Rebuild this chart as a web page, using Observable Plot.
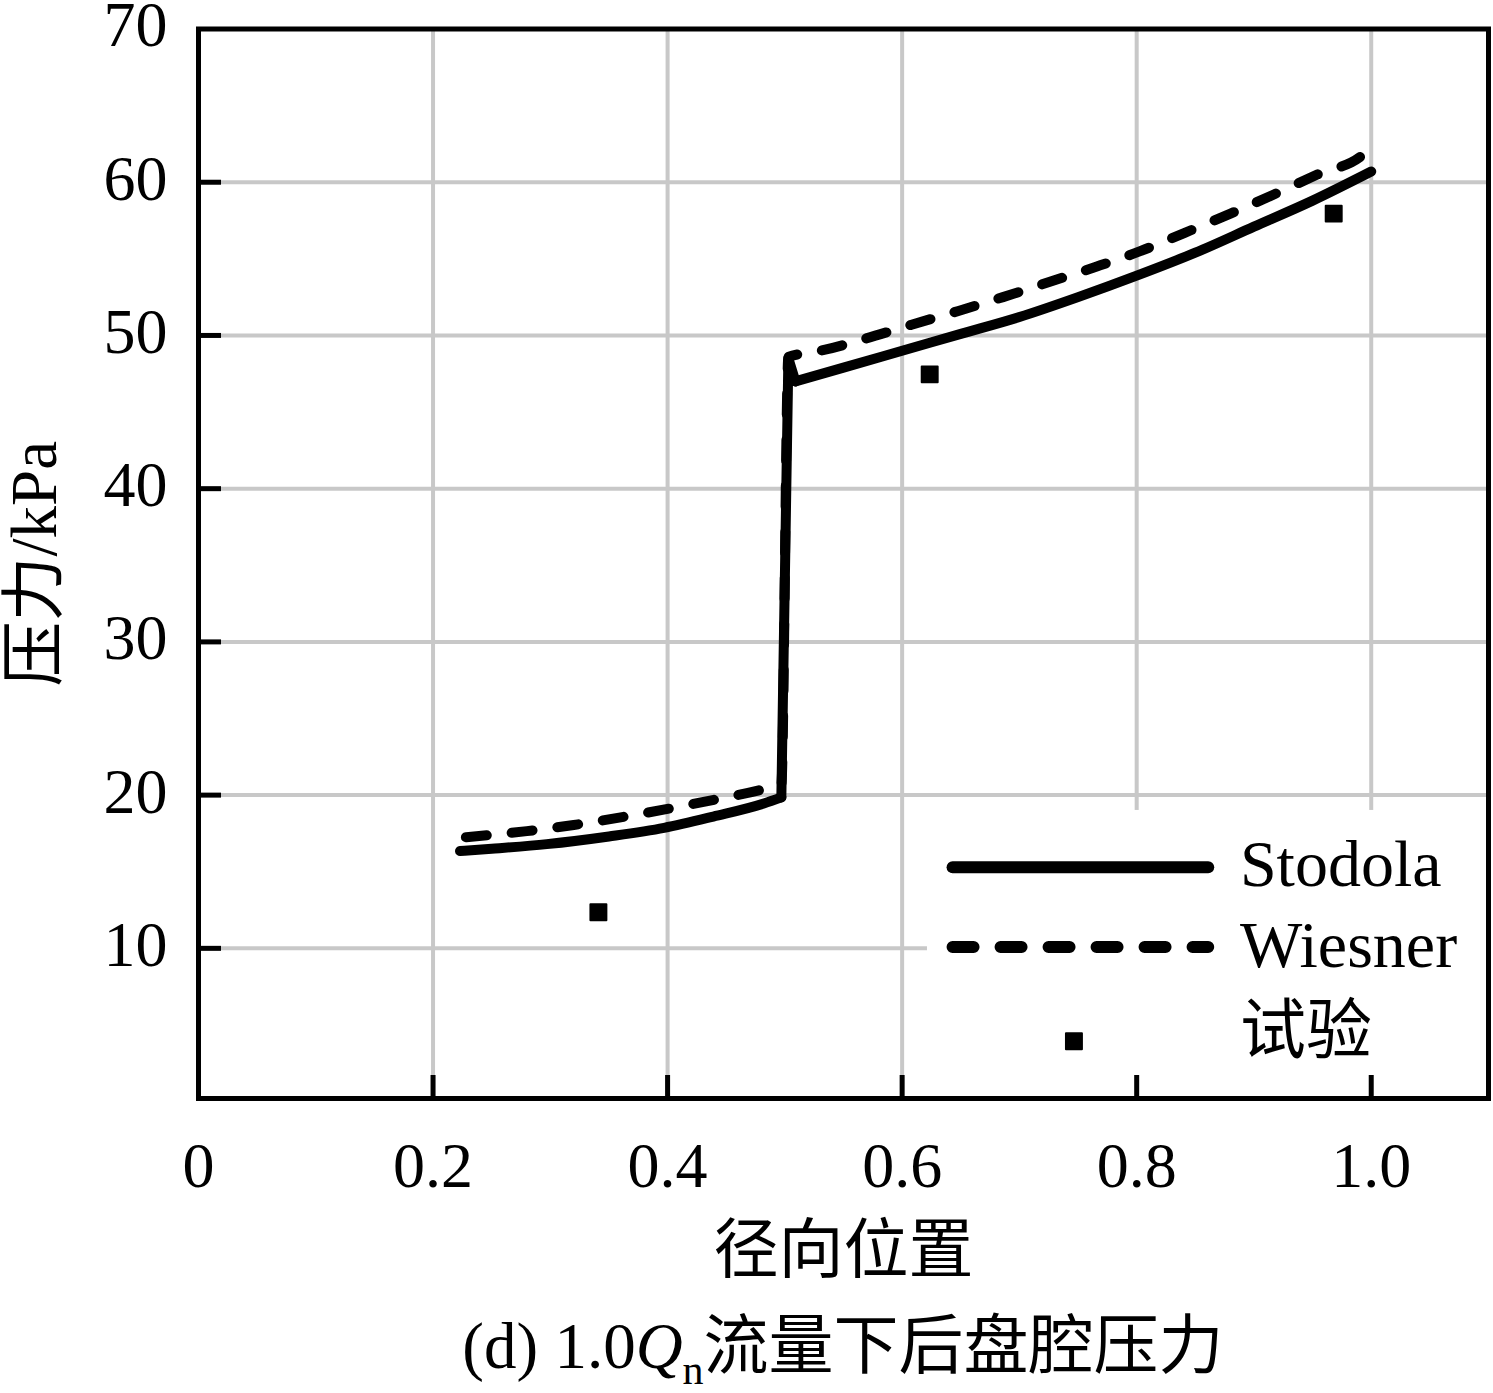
<!DOCTYPE html>
<html>
<head>
<meta charset="utf-8">
<script src="https://cdn.jsdelivr.net/npm/d3@7"></script>
<script src="https://cdn.jsdelivr.net/npm/@observablehq/plot@0.6"></script>
<style>
  html, body { margin: 0; padding: 0; background: #fff; }
  #chart svg { display: block; }
  #cap {
    width: 1493px; box-sizing: border-box; padding-left: 198px; padding-right: 5px;
    height: 93px; line-height: 93px; padding-top: 0px; text-align: center;
    font-family: "Liberation Serif", "Noto Sans CJK SC", serif; font-size: 65px; color: #000;
    white-space: nowrap; overflow: hidden;
  }
  #cap sub { font-size: 42px; vertical-align: -16px; line-height: 0; }
</style>
</head>
<body>
<div id="chart"></div>
<div id="cap">(d) 1.0<i>Q</i><sub>n</sub>流量下后盘腔压力</div>
<script>
// ---- data ----
const stodolaX = [0.223, 0.25, 0.297, 0.35, 0.397, 0.439, 0.482, 0.497, 0.503, 0.509, 0.55, 0.6, 0.65, 0.7, 0.75, 0.8, 0.85, 0.9, 0.95, 1.0];
const stodolaY = [16.35, 16.5, 16.8, 17.3, 17.86, 18.6, 19.45, 19.85, 48.5, 47.0, 47.9, 49.0, 50.1, 51.2, 52.5, 53.9, 55.4, 57.1, 58.8, 60.7];
const wiesnerX = [0.228, 0.28, 0.32, 0.36, 0.40, 0.44, 0.48, 0.497, 0.503, 0.519, 0.53, 0.569, 0.608, 0.648, 0.686, 0.726, 0.766, 0.803, 0.841, 0.880, 0.917, 0.954, 0.993, 1.0];
const wiesnerY = [17.25, 17.65, 18.05, 18.55, 19.1, 19.7, 20.35, 20.7, 48.6, 48.85, 49.0, 49.8, 50.7, 51.6, 52.5, 53.5, 54.5, 55.5, 56.7, 57.95, 59.2, 60.5, 61.8, 62.3];
const testX = [0.341, 0.6235, 0.968];
const testY = [12.36, 47.46, 57.95];
const jumpX = [0.497, 0.509];   // x range of the step between the inner and outer cavity

const xTickValues = [0, 0.2, 0.4, 0.6, 0.8, 1.0];
const xTickLabels = ["0", "0.2", "0.4", "0.6", "0.8", "1.0"];
const xGridValues = [0.2, 0.4, 0.6, 0.8, 1.0];
const yTickValues = [10, 20, 30, 40, 50, 60, 70];
const yGridValues = [10, 20, 30, 40, 50, 60];
const seriesNames = ["Stodola", "Wiesner", "试验"];
const xTitle = "径向位置";
const yTitle = "压力/kPa";

// ---- layout (legend placement in data units) ----
const legendBox = {x1: 0.6216, x2: 1.1, y1: 0.2, y2: 19.0};
const legendLine = {x1: 0.643, x2: 0.861};
const legendRowY = [15.3, 10.08, 3.94];
const legendTextX = 0.888;
const legendTextY = [14.1, 8.77, 3.14];
const legendSymbolX = 0.7465;

const stodola = stodolaX.map((x, i) => ({x, y: stodolaY[i]}));
const stodolaSmooth = stodola.filter(d => d.x <= jumpX[0] || d.x >= jumpX[1])
  .map(d => ({...d, seg: d.x <= jumpX[0] ? "inner" : "outer"}));
const stodolaJump = stodola.filter(d => d.x >= jumpX[0] && d.x <= jumpX[1]);
const wiesner = wiesnerX.map((x, i) => ({x, y: wiesnerY[i]}));
const test = testX.map((x, i) => ({x, y: testY[i]}));
const legendRows = seriesNames.map((name, i) => ({name, y: legendRowY[i], ty: legendTextY[i]}));

const W = 1493, H = 1300;
const serif = "'Liberation Serif', 'Noto Sans CJK SC', serif";
const grid = {stroke: "#c8c8c8", strokeOpacity: 1, strokeWidth: 4};
const solid = {stroke: "#000", strokeWidth: 10, strokeLinecap: "round", strokeLinejoin: "round"};

const chart = Plot.plot({
  width: W, height: H,
  marginLeft: 198, marginRight: 5, marginTop: 28.5, marginBottom: H - 1098,
  x: {domain: [0, 1.1]},
  y: {domain: [0.2, 70]},
  style: {fontFamily: serif, fontSize: "64px", color: "#000", background: "#fff", overflow: "visible"},
  marks: [
    Plot.gridX(xGridValues, grid),
    Plot.gridY(yGridValues, grid),
    Plot.rect([legendBox], {x1: "x1", x2: "x2", y1: "y1", y2: "y2", fill: "#fff"}),
    Plot.line(wiesner, {x: "x", y: "y", curve: "monotone-x", ...solid, strokeDasharray: "21,25"}),
    Plot.line(stodolaSmooth, {x: "x", y: "y", z: "seg", curve: "monotone-x", ...solid}),
    Plot.line(stodolaJump, {x: "x", y: "y", ...solid}),
    Plot.dot(test, {x: "x", y: "y", symbol: "square", r: 9, fill: "#000", stroke: "#000",
      strokeWidth: 2, strokeLinejoin: "round"}),
    Plot.frame({stroke: "#000", strokeWidth: 5}),
    // inward ticks
    Plot.axisX({ticks: xGridValues, tickSize: 23, dy: -23, strokeWidth: 5, fill: "none",
      tickFormat: () => "", label: null}),
    Plot.axisY({ticks: yGridValues, tickSize: 23, dx: 23, strokeWidth: 5, fill: "none",
      tickFormat: () => "", label: null}),
    // tick labels
    Plot.axisX({ticks: xTickValues, tickSize: 0, tickPadding: 43, fontSize: 64,
      tickFormat: d => xTickLabels[xTickValues.indexOf(d)], label: null}),
    Plot.axisY({ticks: yTickValues, tickSize: 0, tickPadding: 31, dy: -3, fontSize: 64,
      tickFormat: d => String(d), label: null}),
    // axis titles
    Plot.text([xTitle], {text: d => d, frameAnchor: "bottom", dy: 153, textAnchor: "middle",
      lineAnchor: "middle", fontSize: 65, fill: "#000"}),
    Plot.text([yTitle], {text: d => d, frameAnchor: "left", dx: -163, rotate: -90,
      textAnchor: "middle", lineAnchor: "middle", fontSize: 65, fill: "#000"}),
    // legend
    Plot.link(legendRows.slice(0, 1), {x1: () => legendLine.x1, x2: () => legendLine.x2, y1: "y", y2: "y",
      stroke: "#000", strokeWidth: 12, strokeLinecap: "round"}),
    Plot.link(legendRows.slice(1, 2), {x1: () => legendLine.x1, x2: () => legendLine.x2, y1: "y", y2: "y",
      stroke: "#000", strokeWidth: 12, strokeLinecap: "round", strokeDasharray: "21,27"}),
    Plot.dot(legendRows.slice(2, 3), {x: () => legendSymbolX, y: "y", symbol: "square", r: 9,
      fill: "#000", stroke: "#000", strokeWidth: 2, strokeLinejoin: "round"}),
    Plot.text(legendRows, {x: () => legendTextX, y: "ty", text: "name", textAnchor: "start",
      lineAnchor: "bottom", fontSize: 66, fill: "#000"})
  ]
});
document.getElementById("chart").appendChild(chart);
</script>
</body>
</html>
